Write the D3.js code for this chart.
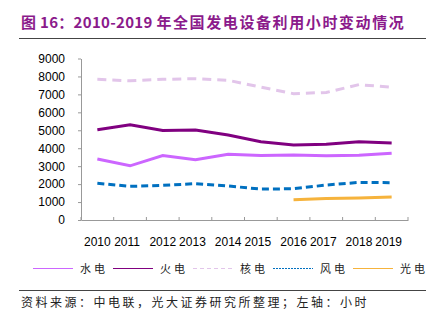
<!DOCTYPE html>
<html>
<head>
<meta charset="utf-8">
<script src="https://cdn.jsdelivr.net/npm/d3@7"></script>
<style>
  body { margin: 0; background: #fff; }
  svg { display: block; font-family: "Liberation Sans", Arial, sans-serif; }
  .axis path, .axis line { stroke: #999; }
  .axis text { fill: #000; font-size: 12px; }
</style>
</head>
<body>
<div id="svgcontainer"></div>
<script>
var years = ["2010", "2011", "2012", "2013", "2014", "2015", "2016", "2017", "2018", "2019"];
var yTicks = [0, 1000, 2000, 3000, 4000, 5000, 6000, 7000, 8000, 9000];

// utilisation hours per year
var hydro   = [3404, 3019, 3591, 3359, 3669, 3590, 3619, 3579, 3613, 3726];
var thermal = [5031, 5305, 4982, 5021, 4739, 4364, 4186, 4219, 4361, 4293];
var nuclear = [7840, 7759, 7838, 7874, 7787, 7403, 7042, 7108, 7543, 7394];
var wind    = [2047, 1875, 1929, 2025, 1893, 1724, 1742, 1948, 2095, 2082];
var solar   = [null, null, null, null, null, null, 1125, 1205, 1230, 1285];

var seriesNames = ["水电", "火电", "核电", "风电", "光电"];

var series = [
  {name: seriesNames[0], values: hydro,   color: "#cc66ff", dash: null},
  {name: seriesNames[1], values: thermal, color: "#800080", dash: null},
  {name: seriesNames[2], values: nuclear, color: "#e2c5ea", dash: "9,6"},
  {name: seriesNames[3], values: wind,    color: "#0070c0", dash: "7,4"},
  {name: seriesNames[4], values: solar,   color: "#f6b33c", dash: null}
];

var W = 433, H = 327;
var svg = d3.select("div#svgcontainer").append("svg")
    .attr("width", W).attr("height", H);

// title + rules
var title = svg.append("text")
    .attr("x", 21).attr("y", 28)
    .style("font-family", "'Noto Sans CJK SC', sans-serif")
    .style("font-weight", "bold")
    .style("font-size", "15px")
    .style("fill", "#8b1a8b");
title.append("tspan").style("letter-spacing", "0.3px").text("图 16：2010-2019 ");
title.append("tspan").style("letter-spacing", "1.6px").text("年全国发电设备利用小时变动情况");

svg.append("line").attr("x1", 19).attr("x2", 426).attr("y1", 38.5).attr("y2", 38.5)
    .style("stroke", "#444").style("stroke-width", 1);
svg.append("line").attr("x1", 19).attr("x2", 426).attr("y1", 290.5).attr("y2", 290.5)
    .style("stroke", "#444").style("stroke-width", 1);

svg.append("text")
    .attr("x", 21).attr("y", 307)
    .style("font-family", "'Noto Sans CJK SC', sans-serif")
    .style("font-size", "12px")
    .style("letter-spacing", "2.5px")
    .style("fill", "#222")
    .text("资料来源：中电联，光大证券研究所整理；左轴：小时");

var plotLeft = 81, plotRight = 408, plotTop = 58.5, plotBottom = 220;

var x = d3.scaleBand().domain(years).range([plotLeft, plotRight]);
var y = d3.scaleLinear().domain([0, 9000]).range([plotBottom, plotTop]);

var g = svg.append("g");

g.append("g")
    .attr("class", "axis axis--y")
    .attr("transform", "translate(" + plotLeft + ",0)")
    .call(d3.axisLeft(y).tickValues(yTicks).tickSize(3).tickSizeOuter(0).tickPadding(13).tickFormat(d3.format("d")));

var xAxis = g.append("g")
    .attr("class", "axis axis--x")
    .attr("transform", "translate(0," + plotBottom + ")")
    .call(d3.axisBottom(x).tickSize(0).tickSizeOuter(0).tickPadding(17));

// ticks between bands point up into the plot
xAxis.selectAll(".sep")
    .data(d3.range(years.length + 1))
    .enter().append("line")
    .attr("class", "sep")
    .attr("x1", function(i){ return plotLeft + i * x.step(); })
    .attr("x2", function(i){ return plotLeft + i * x.step(); })
    .attr("y1", 0).attr("y2", -3);

// year labels sit in pairs
xAxis.selectAll(".tick text")
    .attr("dx", function(d, i){ return i % 2 ? -3 : 0; });

var line = d3.line()
    .defined(function(d){ return d != null; })
    .x(function(d, i){ return x(years[i]) + x.bandwidth() / 2; })
    .y(function(d){ return y(d); });

g.selectAll(".seq")
    .data(series)
    .enter().append("path")
    .attr("class", "seq")
    .attr("d", function(s){ return line(s.values); })
    .style("fill", "none")
    .style("stroke", function(s){ return s.color; })
    .style("stroke-width", 3)
    .style("stroke-dasharray", function(s){ return s.dash; });

// legend
var leg = svg.append("g").selectAll("g")
    .data(series)
    .enter().append("g")
    .attr("transform", function(d, i){ return "translate(" + (33 + i * 80) + ",268.5)"; });

leg.append("line")
    .attr("x1", 0).attr("x2", 40).attr("y1", 0).attr("y2", 0)
    .style("stroke", function(d){ return d.color; })
    .style("stroke-width", 1)
    .style("stroke-dasharray", function(d, i){ return i === 2 ? "4,3" : i === 3 ? "2,1" : null; });

leg.append("text")
    .attr("x", 47).attr("y", 4)
    .style("font-family", "'Noto Sans CJK SC', sans-serif")
    .style("font-size", "11px")
    .style("letter-spacing", "3px")
    .style("fill", "#222")
    .text(function(d){ return d.name; });
</script>
</body>
</html>
